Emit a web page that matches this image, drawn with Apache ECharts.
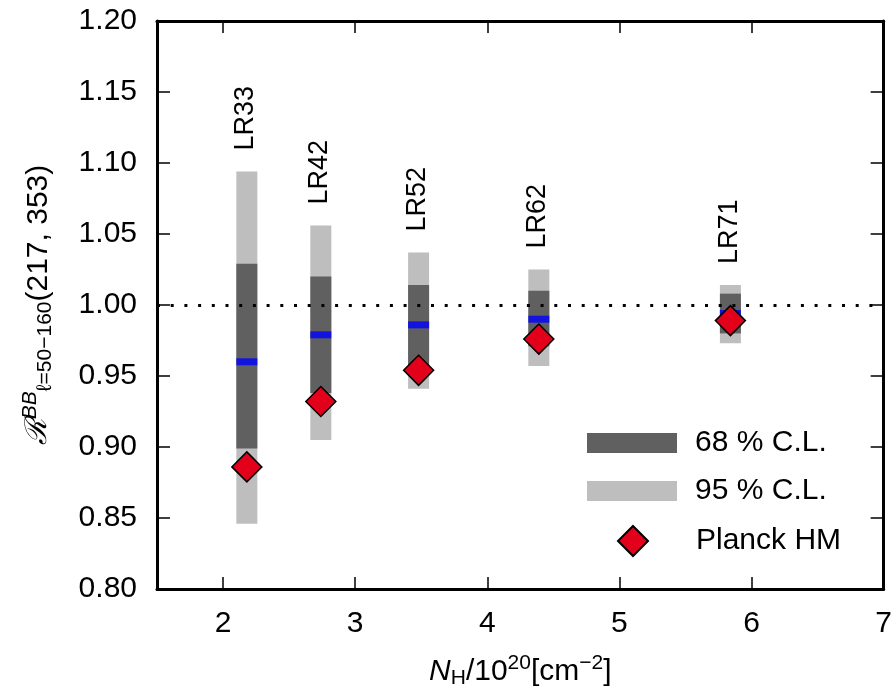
<!DOCTYPE html>
<html>
<head>
<meta charset="utf-8">
<script src="https://cdn.jsdelivr.net/npm/echarts@6/dist/echarts.min.js"></script>
<style>html,body{margin:0;padding:0;background:#fff}#c{width:895px;height:695px}</style>
</head>
<body>
<div id="c"></div>
<script>
// ---- data ----
const regions  = ['LR33', 'LR42', 'LR52', 'LR62', 'LR71'];
const nh       = [2.18, 2.74, 3.48, 4.39, 5.84];
const lo95     = [0.846, 0.905, 0.941, 0.957, 0.973];
const hi95     = [1.094, 1.056, 1.037, 1.025, 1.014];
const lo68     = [0.899, 0.938, 0.951, 0.971, 0.980];
const hi68     = [1.029, 1.020, 1.014, 1.010, 1.008];
const median   = [0.960, 0.979, 0.986, 0.990, 0.994];
const planckHM = [0.886, 0.932, 0.954, 0.976, 0.989];
const xTicks   = [2, 3, 4, 5, 6, 7];
const refLine  = 1.0;

const FONT = 'Liberation Sans';
const DARK = '#606060', LIGHT = '#bebebe', BLUE = '#0000ff', RED = '#e2001a';

function band(color, withLabel) {
  return function (params, api) {
    const x = api.value(0);
    const top = api.coord([x, api.value(2)]);
    const bot = api.coord([x, api.value(1)]);
    const w = 21;
    const children = [{
      type: 'rect',
      shape: { x: top[0] - w / 2, y: top[1], width: w, height: bot[1] - top[1] },
      style: { fill: color }
    }];
    if (withLabel) {
      children.push({
        type: 'text', x: top[0] - 1, y: top[1] - 21, rotation: Math.PI / 2,
        style: { text: regions[params.dataIndex], align: 'left', verticalAlign: 'middle',
                 fontSize: 27, fontFamily: FONT, fill: '#000' }
      });
    }
    return { type: 'group', children: children };
  };
}

const chart = echarts.init(document.getElementById('c'), null, { renderer: 'canvas' });
const axisCommon = {
  min: 1.5, max: 7, type: 'value',
  axisLine: { show: true, onZero: false, lineStyle: { color: '#000', width: 3 } },
  splitLine: { show: false }
};
const yCommon = {
  min: 0.8, max: 1.2, interval: 0.05, type: 'value',
  axisLine: { show: true, onZero: false, lineStyle: { color: '#000', width: 3 } },
  splitLine: { show: false }
};
chart.setOption({
  animation: false,
  grid: { left: 157, right: 10, top: 21, bottom: 106, containLabel: false },
  legend: [{
    data: [{ name: '68 % C.L.', icon: 'rect' }, { name: '95 % C.L.', icon: 'rect' }],
    orient: 'vertical', left: 587, top: 428, padding: 0,
    itemWidth: 90, itemHeight: 20, itemGap: 18,
    textStyle: { fontSize: 30, fontFamily: FONT, color: '#000', lineHeight: 20, padding: [0, 0, 0, 13] }
  }, {
    data: [{ name: 'Planck HM', icon: 'diamond' }],
    orient: 'vertical', left: 617, top: 525, padding: 0,
    itemWidth: 30, itemHeight: 30,
    textStyle: { fontSize: 30, fontFamily: FONT, color: '#000', lineHeight: 30, padding: [0, 0, 0, 43] }
  }],
  xAxis: [Object.assign({}, axisCommon, {
    position: 'bottom',
    axisTick: { show: true, inside: true, length: 12, lineStyle: { width: 1.5, color: '#000' }, customValues: xTicks },
    axisLabel: { show: true, customValues: xTicks, fontSize: 30, fontFamily: FONT, color: '#000', margin: 20 },
    name: '{i|N}{sub|H}{n|/10}{sup|20}{n|[cm}{sup|−2}{n|]}',
    nameLocation: 'middle', nameGap: 64,
    nameTextStyle: {
      rich: {
        i: { fontSize: 30, fontStyle: 'italic', fontFamily: FONT, color: '#000' },
        n: { fontSize: 30, fontFamily: FONT, color: '#000' },
        sub: { fontSize: 21, fontFamily: FONT, color: '#000', padding: [14, 0, 0, 0] },
        sup: { fontSize: 21, fontFamily: FONT, color: '#000', padding: [0, 0, 16, 0] }
      }
    }
  }), Object.assign({}, axisCommon, {
    position: 'top',
    axisTick: { show: true, inside: true, length: 12, lineStyle: { width: 1.5, color: '#000' }, customValues: xTicks },
    axisLabel: { show: false }
  })],
  yAxis: [Object.assign({}, yCommon, {
    position: 'left',
    axisTick: { show: true, inside: true, length: 13, lineStyle: { width: 1.5, color: '#000' } },
    axisLabel: { fontSize: 30, fontFamily: FONT, color: '#000', margin: 20, formatter: v => v.toFixed(2) },
    name: '{r|ℛ}{sup|BB}{sub|ℓ=50−160}{n|(217, 353)}',
    nameLocation: 'middle', nameGap: 100,
    nameTextStyle: {
      rich: {
        r: { fontSize: 30, fontFamily: 'DejaVu Serif', fontStyle: 'italic', color: '#000' },
        n: { fontSize: 30, fontFamily: FONT, color: '#000' },
        sub: { fontSize: 21, fontFamily: FONT, color: '#000', padding: [14, 0, 0, 0] },
        sup: { fontSize: 21, fontFamily: FONT, fontStyle: 'italic', color: '#000', padding: [0, 0, 16, 0] }
      }
    }
  }), Object.assign({}, yCommon, {
    position: 'right',
    axisTick: { show: true, inside: true, length: 13, lineStyle: { width: 1.5, color: '#000' } },
    axisLabel: { show: false }
  })],
  series: [{
    name: '95 % C.L.', type: 'custom', z: 2,
    itemStyle: { color: LIGHT },
    renderItem: band(LIGHT, true),
    encode: { x: 0, y: [1, 2] },
    data: nh.map((x, i) => [x, lo95[i], hi95[i]])
  }, {
    name: '68 % C.L.', type: 'custom', z: 3,
    itemStyle: { color: DARK },
    renderItem: band(DARK, false),
    encode: { x: 0, y: [1, 2] },
    data: nh.map((x, i) => [x, lo68[i], hi68[i]])
  }, {
    name: 'median', type: 'scatter', z: 4,
    symbol: 'rect', symbolSize: [21, 7],
    itemStyle: { color: BLUE },
    data: nh.map((x, i) => [x, median[i]])
  }, {
    name: 'ref', type: 'line', z: 5, data: [],
    markLine: {
      silent: true, symbol: ['none', 'none'], label: { show: false },
      lineStyle: { color: '#000', width: 3, type: [3, 10.7] },
      data: [{ yAxis: refLine }]
    }
  }, {
    name: 'Planck HM', type: 'scatter', z: 6,
    symbol: 'diamond', symbolSize: [30, 30],
    itemStyle: { color: RED, borderColor: '#000', borderWidth: 1.5, opacity: 1 },
    data: nh.map((x, i) => [x, planckHM[i]])
  }]
});
</script>
</body>
</html>
